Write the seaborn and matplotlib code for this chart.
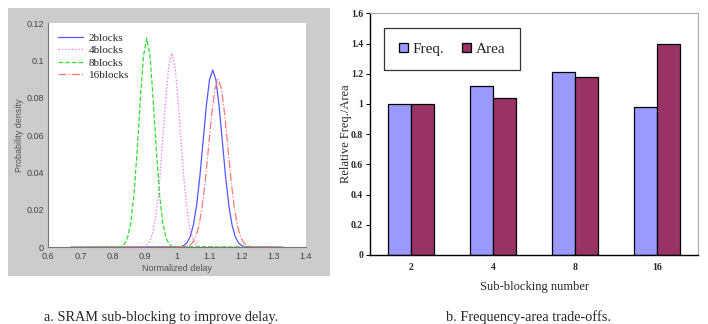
import matplotlib
matplotlib.use("Agg")
import matplotlib.pyplot as plt
import matplotlib.patches as mpatches
from matplotlib.ticker import FuncFormatter, FixedLocator
import seaborn as sns
import pandas as pd

# ---------------- data: left panel ----------------
x_2blocks = [0.67, 1.011, 1.021, 1.031, 1.041, 1.051, 1.061, 1.071, 1.081, 1.091, 1.101, 1.111,
             1.121, 1.131, 1.141, 1.151, 1.161, 1.171, 1.181, 1.191, 1.201, 1.211, 1.33]
y_2blocks = [0.0, 0.0003, 0.0009, 0.0024, 0.0057, 0.0120, 0.0226, 0.0379, 0.0566, 0.0755, 0.0897, 0.095,
             0.0897, 0.0755, 0.0566, 0.0379, 0.0226, 0.0120, 0.0057, 0.0024, 0.0009, 0.0003, 0.0]

x_4blocks = [0.67, 0.894, 0.904, 0.914, 0.924, 0.934, 0.944, 0.954, 0.964, 0.974, 0.984,
             0.994, 1.004, 1.014, 1.024, 1.034, 1.044, 1.054, 1.064, 1.074, 1.33]
y_4blocks = [0.0, 0.0003, 0.0009, 0.0028, 0.0072, 0.0164, 0.0318, 0.0534, 0.0774, 0.0966, 0.104,
             0.0966, 0.0774, 0.0534, 0.0318, 0.0164, 0.0072, 0.0028, 0.0009, 0.0003, 0.0]

x_8blocks = [0.67, 0.826, 0.836, 0.846, 0.856, 0.866, 0.876, 0.886, 0.896, 0.906,
             0.916, 0.926, 0.936, 0.946, 0.956, 0.966, 0.976, 0.986, 1.33]
y_8blocks = [0.0, 0.0004, 0.0016, 0.0049, 0.0128, 0.0279, 0.0513, 0.0792, 0.1027, 0.112,
             0.1027, 0.0792, 0.0513, 0.0279, 0.0128, 0.0049, 0.0016, 0.0004, 0.0]

x_16blocks = [0.67, 1.028, 1.038, 1.048, 1.058, 1.068, 1.078, 1.088, 1.098, 1.108, 1.118, 1.128,
              1.138, 1.148, 1.158, 1.168, 1.178, 1.188, 1.198, 1.208, 1.218, 1.228, 1.33]
y_16blocks = [0.0, 0.0003, 0.0009, 0.0023, 0.0054, 0.0113, 0.0214, 0.0359, 0.0536, 0.0716, 0.0850, 0.090,
              0.0850, 0.0716, 0.0536, 0.0359, 0.0214, 0.0113, 0.0054, 0.0023, 0.0009, 0.0003, 0.0]

curve_labels = ["2blocks", "4blocks", "8blocks", "16blocks"]

# ---------------- data: right panel ----------------
subblocks = ["2", "4", "8", "16"]
freq_vals = [1.00, 1.12, 1.21, 0.98]
area_vals = [1.00, 1.04, 1.18, 1.40]
series_names = ["Freq.", "Area"]

left_xticks = [0.6, 0.7, 0.8, 0.9, 1.0, 1.1, 1.2, 1.3, 1.4]
left_yticks = [0, 0.02, 0.04, 0.06, 0.08, 0.10, 0.12]
right_yticks = [0, 0.2, 0.4, 0.6, 0.8, 1.0, 1.2, 1.4, 1.6]

# ---------------- figure ----------------
sns.set_theme(style="white")
plt.rcParams["font.family"] = ["Liberation Sans", "DejaVu Sans"]
fig = plt.figure(figsize=(7.08, 3.24), dpi=100)
fig.patch.set_facecolor("white")

W, H = 708.0, 324.0
# gray background of the left panel
fig.patches.append(mpatches.Rectangle((8 / W, 1 - 276 / H), 322 / W, 268 / H,
                                      transform=fig.transFigure, facecolor="#cccccc",
                                      edgecolor="none", zorder=-5))

axL = fig.add_axes([48.3 / W, 1 - 247.3 / H, 257.4 / W, 224 / H])
axL.set_zorder(2)
axL.set_facecolor("white")

styles = [("#5555ff", "-"), ("#ff66ff", ":"), ("#33dd33", "--"), ("#ff7777", "-.")]
xs = [x_2blocks, x_4blocks, x_8blocks, x_16blocks]
ys = [y_2blocks, y_4blocks, y_8blocks, y_16blocks]
for xv, yv, lab, (c, ls) in zip(xs, ys, curve_labels, styles):
    d = pd.DataFrame({"x": xv, "y": yv})
    sns.lineplot(data=d, x="x", y="y", ax=axL, color=c, linestyle=ls, linewidth=0.9,
                 label=lab, estimator=None, sort=False)

axL.set_xlim(0.6, 1.4)
axL.set_ylim(0, 0.12)
axL.set_xticks(left_xticks)
axL.set_yticks(left_yticks)
fmt = FuncFormatter(lambda v, p: "%g" % round(v, 3))
axL.xaxis.set_major_formatter(fmt)
axL.yaxis.set_major_formatter(fmt)
axL.tick_params(direction="in", length=3, width=0.6, colors="#555555", labelsize=6.5,
                labelcolor="#444444")
axL.tick_params(axis="x", pad=3.5)
axL.tick_params(axis="y", pad=3.2)
for s in ["top", "right"]:
    axL.spines[s].set_visible(False)
for s in ["left", "bottom"]:
    axL.spines[s].set_color("#777777")
    axL.spines[s].set_linewidth(0.8)
axL.set_xlabel("Normalized delay", fontsize=6.5, color="#555555", labelpad=2)
axL.set_ylabel("Probability density", fontsize=6.5, color="#555555", labelpad=1.5)
legL = axL.legend(loc="upper left", frameon=False, handlelength=2.3,
                  handletextpad=0.5, labelspacing=0.25, borderaxespad=0.45,
                  prop={"family": "Liberation Serif", "size": 8})

# ---------------- right panel ----------------
axR = fig.add_axes([370 / W, 1 - 255 / H, 328 / W, 241.7 / H])
df = pd.DataFrame({
    "Sub-blocking number": subblocks * 2,
    "value": freq_vals + area_vals,
    "series": [series_names[0]] * 4 + [series_names[1]] * 4,
})
sns.barplot(data=df, x="Sub-blocking number", y="value", hue="series", ax=axR,
            palette=["#9999ff", "#993366"], width=0.57, gap=0, edgecolor="black",
            linewidth=0.9, saturation=1)
axR.set_xlim(-0.5, 3.5)
axR.set_ylim(0, 1.6)
axR.set_yticks(right_yticks)
axR.yaxis.set_major_formatter(FuncFormatter(lambda v, p: "%g" % round(v, 2)))
axR.xaxis.set_minor_locator(FixedLocator([0.5, 1.5, 2.5]))
axR.tick_params(axis="x", which="major", length=0, labelsize=7, pad=6)
axR.tick_params(axis="x", which="minor", length=4, width=0.7, direction="inout", color="black")
axR.tick_params(axis="y", which="major", length=3, width=0.7, direction="out", color="black",
                labelsize=7, pad=2, left=True)
for lab in axR.get_xticklabels() + axR.get_yticklabels():
    lab.set_family("Liberation Serif")
    lab.set_fontweight("bold")
for s in ["left", "bottom"]:
    axR.spines[s].set_color("black")
    axR.spines[s].set_linewidth(1.0)
for s in ["top", "right"]:
    axR.spines[s].set_color("#aaaaaa")
    axR.spines[s].set_linewidth(0.8)
axR.set_xlabel("Sub-blocking number", family="Liberation Serif", fontsize=9, labelpad=6)
axR.set_ylabel("Relative Freq./Area", family="Liberation Serif", fontsize=9, labelpad=-1)
legR = axR.legend(loc="upper left", bbox_to_anchor=(0.043, 0.939), borderaxespad=0,
                  ncol=2, frameon=True, fancybox=False, edgecolor="black",
                  prop={"family": "Liberation Serif", "size": 11},
                  handlelength=0.6, handleheight=0.6, handletextpad=0.3,
                  columnspacing=1.2, borderpad=0.95)
legR.get_frame().set_linewidth(0.9)

# ---------------- captions ----------------
fig.text(161 / W, 1 - 317 / H, "a. SRAM sub-blocking to improve delay.", ha="center",
         va="center", family="Liberation Serif", fontsize=10.3)
fig.text(529 / W, 1 - 317 / H, "b. Frequency-area trade-offs.", ha="center",
         va="center", family="Liberation Serif", fontsize=10.3)

fig.savefig("out.png", dpi=100)
